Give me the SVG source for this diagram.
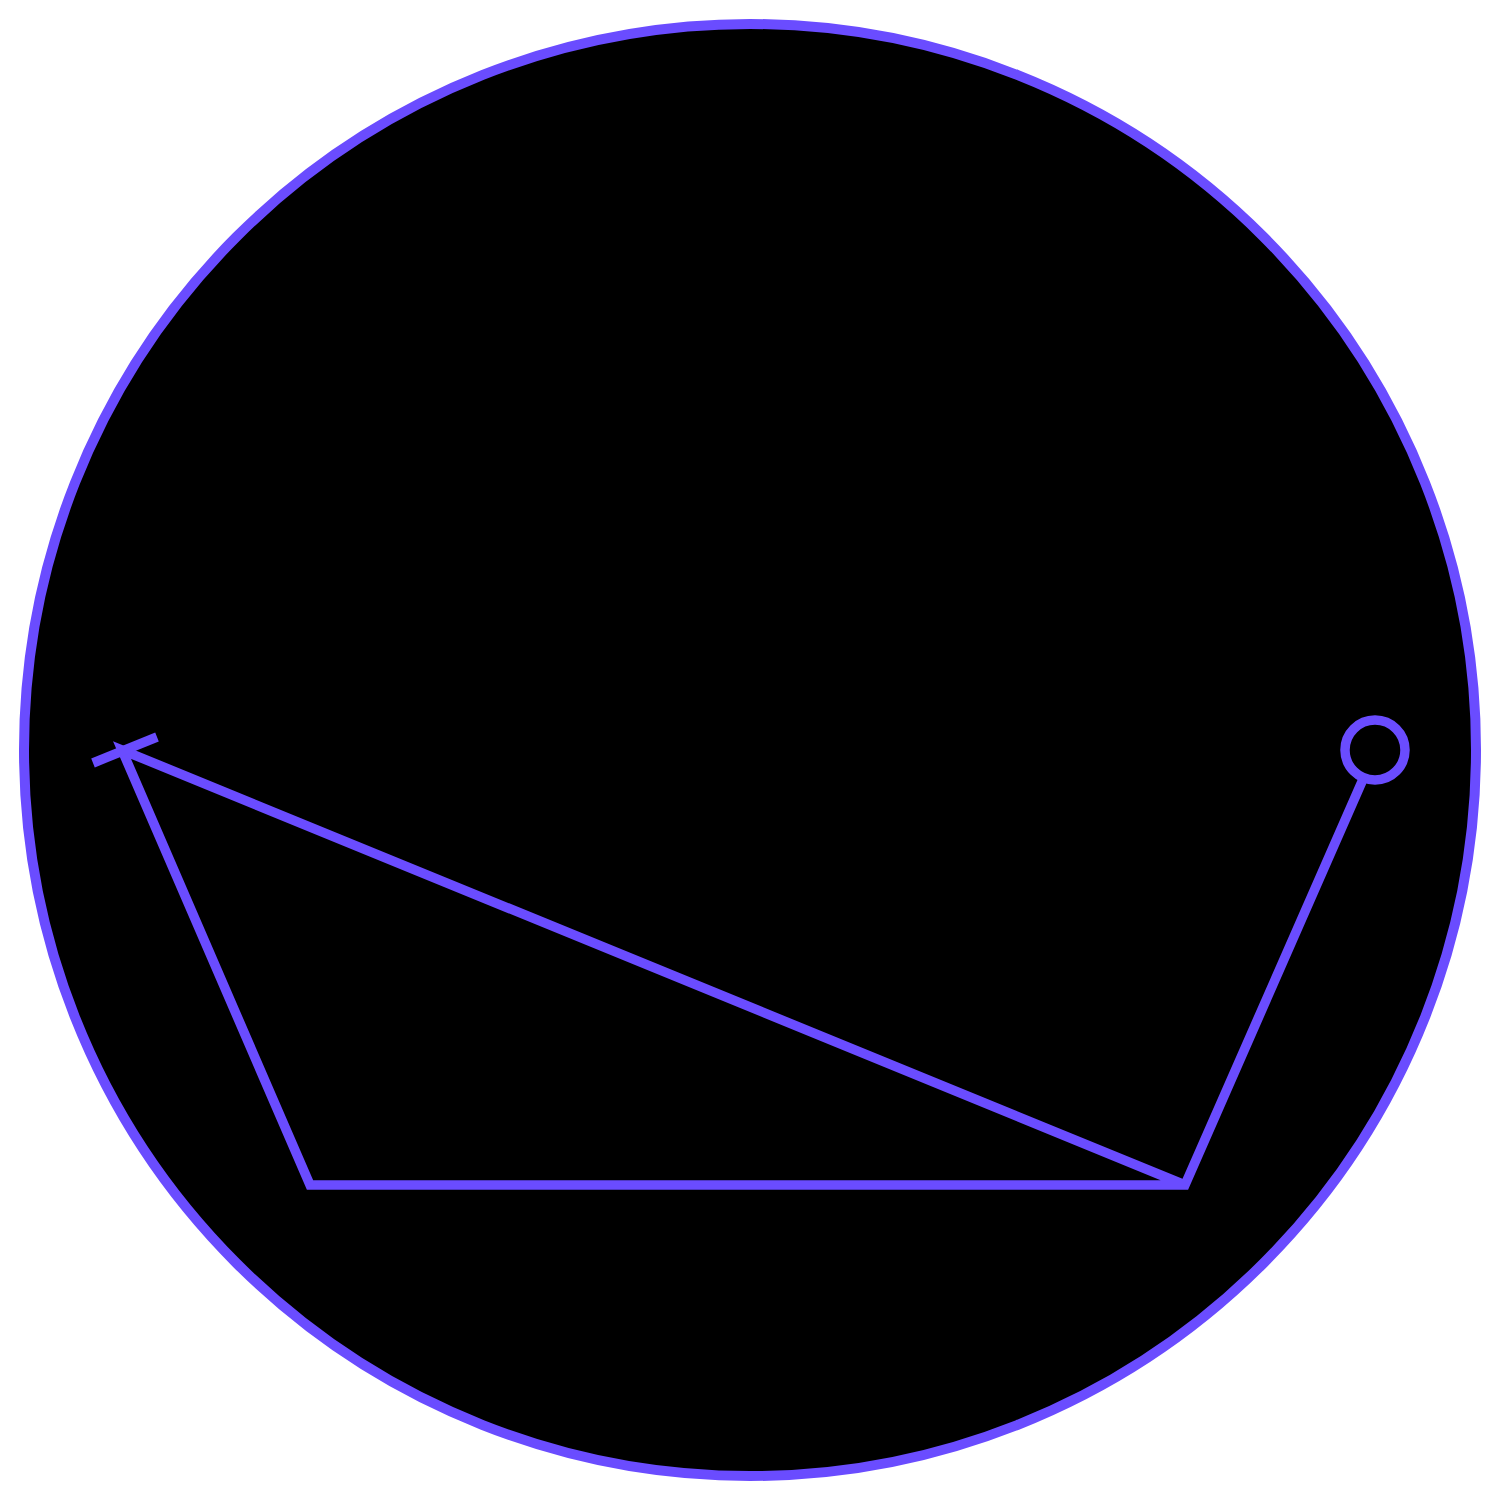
<svg xmlns="http://www.w3.org/2000/svg" width="1500" height="1500" viewBox="0 0 1500 1500">
<style>
.s{fill:none;stroke:#6a4cff;stroke-width:9.5}
</style>
<rect width="1500" height="1500" fill="#ffffff"/>
<g id="frame">
<circle cx="750" cy="750" r="726" fill="#000000" stroke="#6a4cff" stroke-width="10"/>
</g>
<g id="connectors">
<path class="s" d="M1364,777 L1185,1185 L310,1185 L122,750 L1185,1185"/>
<line class="s" x1="93" y1="763" x2="157" y2="737"/>
</g>
<g id="end">
<circle class="s" cx="1375" cy="750" r="30"/>
</g>
</svg>
